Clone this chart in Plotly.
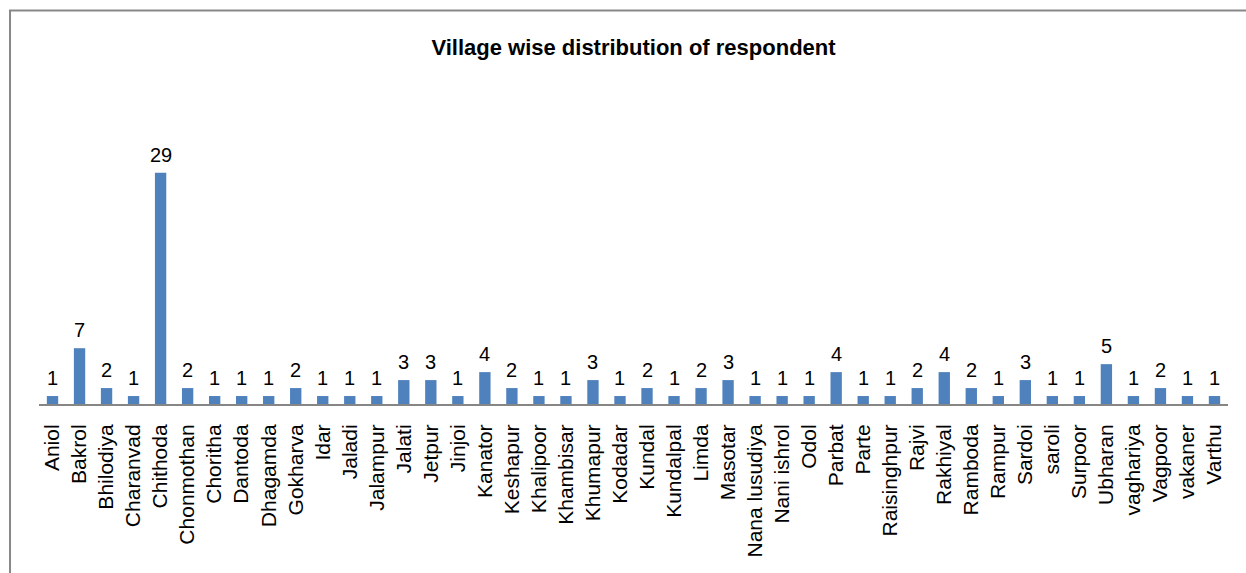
import plotly.graph_objects as go

villages = ["Aniol", "Bakrol", "Bhilodiya", "Charanvad", "Chithoda", "Chonmothan", "Choritha",
            "Dantoda", "Dhagamda", "Gokharva", "Idar", "Jaladi", "Jalampur", "Jalati", "Jetpur",
            "Jinjoi", "Kanator", "Keshapur", "Khalipoor", "Khambisar", "Khumapur", "Kodadar",
            "Kundal", "Kundalpal", "Limda", "Masotar", "Nana lusudiya", "Nani ishrol", "Odol",
            "Parbat", "Parte", "Raisinghpur", "Rajvi", "Rakhiyal", "Ramboda", "Rampur", "Sardoi",
            "saroli", "Surpoor", "Ubharan", "vaghariya", "Vagpoor", "vakaner", "Varthu"]
respondents = [1, 7, 2, 1, 29, 2, 1, 1, 1, 2, 1, 1, 1, 3, 3, 1, 4, 2, 1, 1, 3, 1, 2, 1, 2, 3,
               1, 1, 1, 4, 1, 1, 2, 4, 2, 1, 3, 1, 1, 5, 1, 2, 1, 1]

W, H = 1246, 573
ml, mr, mt, mb = 38.5, 17.5, 125, 169
pw, ph = W - ml - mr, H - mt - mb

FONT = "Liberation Sans"

fig = go.Figure()
fig.add_trace(go.Bar(
    x=villages, y=respondents,
    marker=dict(color="#4F81BD", line=dict(width=0)),
    width=0.42,
))

for v, n in zip(villages, respondents):
    fig.add_annotation(x=v, y=n, text=str(n), showarrow=False, yanchor="bottom",
                       yshift=5, font=dict(family=FONT, size=20, color="black"))

def px_x(p):
    return (p - ml) / pw

def px_y(p):
    return 1 - (p - mt) / ph

fig.add_shape(type="rect", xref="paper", yref="paper",
              x0=px_x(9.5), x1=px_x(1260), y0=px_y(10.5), y1=px_y(590),
              line=dict(color="#888888", width=2), fillcolor="rgba(0,0,0,0)")

fig.update_layout(
    width=W, height=H,
    margin=dict(l=ml, r=mr, t=mt, b=mb, pad=0),
    paper_bgcolor="white", plot_bgcolor="white",
    showlegend=False,
    title=dict(text="<b>Village wise distribution of respondent</b>",
               x=0.5, xref="paper", y=1 - 47 / H, yanchor="middle", xanchor="center",
               font=dict(family=FONT, size=22, color="black")),
    font=dict(family=FONT, size=20, color="black"),
    xaxis=dict(tickangle=-90, showgrid=False, showline=True, linecolor="#868686",
               linewidth=2, ticks="", tickfont=dict(family=FONT, size=21, color="black"),
               ticklabelstandoff=10),
    yaxis=dict(range=[0, 35], visible=False, showgrid=False, zeroline=False),
    bargap=0.58,
)

fig.write_html("out.html")
